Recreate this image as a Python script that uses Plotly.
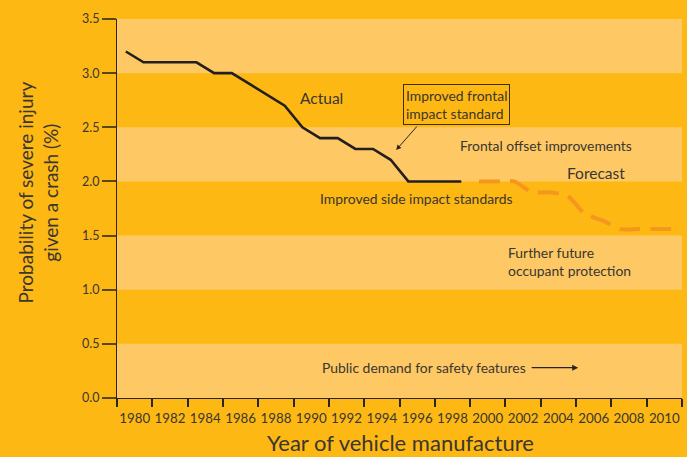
import plotly.graph_objects as go

# ---- data ----
actual_years = list(range(1980, 2000))
actual_values = [3.2, 3.1, 3.1, 3.1, 3.1, 3.0, 3.0, 2.9, 2.8, 2.7,
                 2.5, 2.4, 2.4, 2.3, 2.3, 2.2, 2.0, 2.0, 2.0, 2.0]
forecast_years = list(range(2000, 2012))
forecast_values = [2.0, 2.0, 2.0, 1.9, 1.9, 1.87, 1.7, 1.64, 1.56, 1.56, 1.56, 1.56]
tick_labels = [str(y) for y in range(1980, 2011, 2)]
tick_positions = [y + 0.5 for y in range(1980, 2011, 2)]
boundary_positions = [y - 0.5 for y in range(1980, 2013, 2)]
y_ticks = [0, 0.5, 1.0, 1.5, 2.0, 2.5, 3.0, 3.5]
light_bands = [(0, 0.5), (1.0, 1.5), (2.0, 2.5), (3.0, 3.5)]

BG = "#FDB813"
LIGHT = "#FEC964"
TXT = "#3a3630"
FONT = "Lato"

fig = go.Figure()
fig.add_trace(go.Scatter(x=actual_years, y=actual_values, mode="lines",
                         line=dict(color="#231f20", width=2.6), name="Actual",
                         showlegend=False, hoverinfo="skip"))
fig.add_trace(go.Scatter(x=forecast_years, y=forecast_values, mode="lines",
                         line=dict(color="#F5961F", width=4, dash="21px,10px",
                                   shape="spline", smoothing=0.6),
                         name="Forecast", showlegend=False, hoverinfo="skip"))

shapes = []
for lo, hi in light_bands:
    shapes.append(dict(type="rect", xref="paper", yref="y", x0=0, x1=1, y0=lo, y1=hi,
                       fillcolor=LIGHT, line=dict(width=0), layer="below"))

ann_font = dict(family=FONT, size=13.9, color=TXT)
annotations = [
    dict(x=1991.1, y=2.77, text="Actual", showarrow=False,
         font=dict(family=FONT, size=15.5, color=TXT)),
    dict(x=1998.73, y=2.712, text="Improved frontal<br>impact standard", align="left",
         showarrow=False, bordercolor="#3a3000", borderwidth=1, borderpad=2, font=ann_font),
    dict(x=1995.31, y=2.29, text="", showarrow=True, ax=22, ay=-25, arrowhead=2,
         arrowsize=1, arrowwidth=1, arrowcolor="#2a2520", standoff=0),
    dict(x=2003.81, y=2.336, text="Frontal offset improvements", showarrow=False, font=ann_font),
    dict(x=2006.64, y=2.078, text="Forecast", showarrow=False,
         font=dict(family=FONT, size=15.5, color=TXT)),
    dict(x=1996.45, y=1.847, text="Improved side impact standards", showarrow=False, font=ann_font),
    dict(x=2001.54, y=1.256, xanchor="left", text="Further future<br>occupant protection",
         align="left", showarrow=False, font=ann_font),
    dict(x=1991.0, y=0.286, xanchor="left", text="Public demand for safety features",
         showarrow=False, font=ann_font),
    dict(x=2005.62, y=0.28, text="", showarrow=True, ax=-48, ay=0, arrowhead=2,
         arrowsize=1, arrowwidth=1.2, arrowcolor="#2a2520", standoff=0),
    dict(xref="paper", yref="paper", x=-0.139, y=0.5435, xanchor="center", yanchor="middle",
         text="Probability of severe injury<br>given a crash (%)", textangle=-90,
         showarrow=False, font=dict(family=FONT, size=19, color=TXT)),
    dict(xref="paper", yref="paper", x=0.5009, y=-0.1187, xanchor="center", yanchor="middle",
         text="Year of vehicle manufacture", showarrow=False,
         font=dict(family=FONT, size=22, color=TXT)),
]

fig.update_layout(
    width=687, height=457,
    margin=dict(l=117, r=5, t=19, b=59),
    paper_bgcolor=BG, plot_bgcolor=BG,
    shapes=shapes, annotations=annotations,
    font=dict(family=FONT, color=TXT),
    xaxis=dict(range=[1979.499, 2011.501], tickmode="array", tickvals=tick_positions,
               ticktext=tick_labels, ticks="outside", ticklen=8, tickcolor="rgba(0,0,0,0)",
               showgrid=False, zeroline=False, showline=True, linecolor="#2a2520", linewidth=1.2,
               tickfont=dict(family=FONT, size=13.3, color=TXT), automargin=False,
               minor=dict(tickmode="array", tickvals=boundary_positions, ticks="outside",
                          ticklen=8, tickwidth=1.5, tickcolor="#2a2520", showgrid=False)),
    yaxis=dict(range=[0, 3.5], tickmode="array", tickvals=y_ticks, tickformat=".1f",
               ticks="outside", ticklen=14, tickwidth=1.5, tickcolor="#5a4812",
               showgrid=False, zeroline=False, showline=True, linecolor="#2a2520", linewidth=1.2,
               tickfont=dict(family=FONT, size=12.5, color=TXT), automargin=False),
)

fig.write_html("out.html", config={"displayModeBar": False},
               post_script="document.body.style.margin='0px';")
